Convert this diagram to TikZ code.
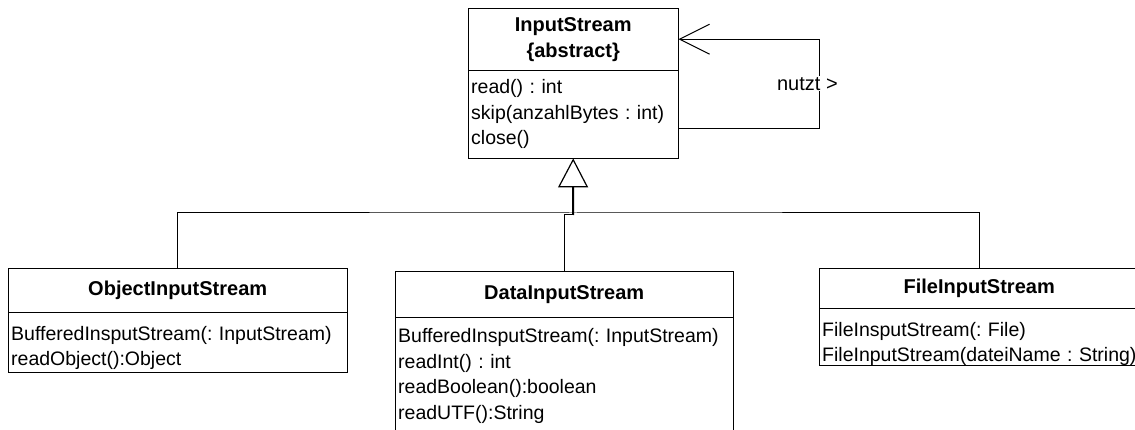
\documentclass[tikz,border=0pt]{standalone}
\usepackage{fontspec}
\setmainfont{Liberation Sans}
\usepackage{tikz}
\usetikzlibrary{arrows.meta}
\tikzset{ % Setup for class boxes
classhead/.style={draw, anchor=north west, inner sep=0pt, align=center, font=\fontsize{20}{26}\selectfont\bfseries},
classbody/.style={draw, anchor=north west, inner xsep=3pt, inner ysep=0pt, align=left, font=\fontsize{19.5}{25.5}\selectfont,
    execute at begin node={\frenchspacing\hyphenpenalty=10000\exhyphenpenalty=10000}},
link/.style={line width=1pt},
}

\begin{document}
\begin{tikzpicture}[x=1pt, y=-1pt]
            \useasboundingbox (0,0) rectangle (1135,430);
            \node [classhead, minimum width=210, minimum height=62] (isHead) at (468,8) {InputStream\\\{abstract\}};
            \node [classbody, text width=204, minimum height=88] (isBody) at (468,70) {read() : int\\skip(anzahlBytes : int)\\close()};

            \node [classhead, minimum width=339, minimum height=44] (objHead) at (8,268) {ObjectInputStream};
            \node [classbody, text width=333, text height=28, text depth=32] (objBody) at (8,312) {BufferedInsputStream(: InputStream)\\readObject():Object};

            \node [classhead, minimum width=338, minimum height=46] (dataHead) at (395,271) {DataInputStream};
            \node [classbody, text width=332, minimum height=118] (dataBody) at (395,317) {BufferedInsputStream(: InputStream)\\readInt() : int\\readBoolean():boolean\\readUTF():String};

            \node [classhead, minimum width=320, minimum height=40] (fileHead) at (819,268) {FileInputStream};
            \node [classbody, text width=335, text height=28, text depth=29] (fileBody) at (819,308) {FileInsputStream(: File)\\FileInputStream(dateiName : String)};

            % nutzt-Assoziation
            \draw [link, -{Straight Barb[length=30pt, width=30pt]}] ([yshift=-14pt]isBody.east) -- ++(141,0) |- (isHead.east)
                node [pos=0.25, xshift=-12pt, fill=white, inner sep=1pt, font=\fontsize{20}{24}\selectfont] (useLabel) {nutzt >};

            % Vererbung
            \coordinate (bus) at (573,213);
            \coordinate (hub) at (573,215);
            \draw [link] (objHead.north) |- (bus) -| (fileHead.north);
            \draw [link] (dataHead.north) |- (hub);
            \draw [line width=2pt, -{Triangle[open, length=29pt, width=30pt, line width=1.2pt]}] (hub) -- (isBody.south);
        \end{tikzpicture}
\end{document}
